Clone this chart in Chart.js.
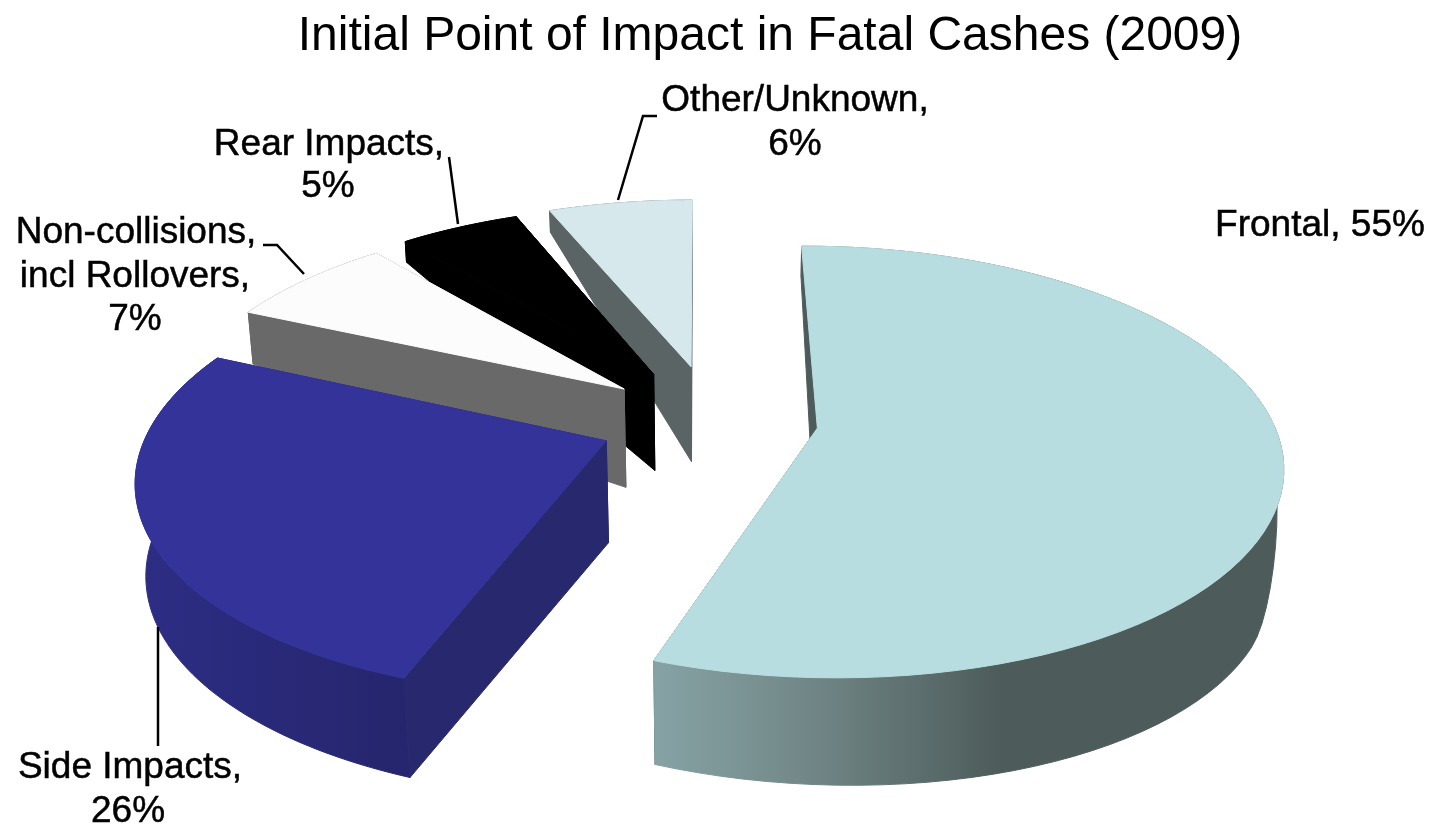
<!DOCTYPE html>
<html><head><meta charset="utf-8">
<style>html,body{margin:0;padding:0;background:#fff}#w{width:1430px;height:827px}</style>
<script src="https://cdn.jsdelivr.net/npm/chart.js@4"></script>
</head><body><div id="w"><canvas id="c"></canvas></div>
<script>
const titleText = 'Initial Point of Impact in Fatal Cashes (2009)';
const categories = ['Frontal', 'Side Impacts', 'Non-collisions, incl Rollovers', 'Rear Impacts', 'Other/Unknown'];
const shares = [55, 26, 7, 5, 6];
const topColors = ['#b8dde0', '#333399', '#fcfcfc', '#000000', '#d6e8ec'];
const wallColors = ['#4d5c5b', '#28286f', '#696969', '#000000', '#5a6464'];
const labelLines = [['Frontal, 55%'], ['Side Impacts,', '26%'], ['Non-collisions,', 'incl Rollovers,', '7%'], ['Rear Impacts,', '5%'], ['Other/Unknown,', '6%']];
const sliceOffsets = [76, 84, 84, 88, 90];

const cam = {cx: 714, cy: 420, a: 455, e: 208, g: 0.156};
const labelAnchors = [[[1320, 236]], [[130, 778], [128, 822]], [[136, 243], [135, 287], [135, 330]], [[329, 155], [328, 197]], [[795, 111], [795, 155]]];
const leaders = [null, [[158, 627], [158, 746]], [[263, 245], [277, 245], [304, 274]], [[449, 157], [458, 224]], [[657, 116], [643, 116], [618, 200]]];

function smooth(a, b, x) { const t = Math.min(1, Math.max(0, (x - a) / (b - a))); return t * t * (3 - 2 * t); }
function proj(u, v) { const w = 1 - cam.g * v; return [cam.cx + cam.a * u / w, cam.cy + cam.e * v / w]; }
function down(u, v) {
  const p = proj(u, v);
  let d = 65 + 40 * Math.tanh(3.5 * (v + 0.55)) + 10 * u;
  d -= 90 * smooth(0.95, 1.2, u) * (1 - smooth(0, 0.5, v));
  return [p[0] + (cam.cx - p[0]) * d * 0.0002, p[1] + d];
}
function fillPoly(ctx, pts, style) {
  ctx.beginPath();
  pts.forEach((p, i) => i ? ctx.lineTo(p[0], p[1]) : ctx.moveTo(p[0], p[1]));
  ctx.closePath();
  ctx.fillStyle = style; ctx.strokeStyle = style; ctx.lineWidth = 1;
  ctx.fill(); ctx.stroke();
}
const pie3d = {
  id: 'pie3d',
  beforeDatasetDraw(chart) {
    const ctx = chart.ctx, arcs = chart.getDatasetMeta(0).data;
    ctx.save();
    for (let i = arcs.length - 1; i >= 0; i--) {
      const a = arcs[i], mid = (a.startAngle + a.endAngle) / 2, o = a.options.offset / a.outerRadius;
      const ox = Math.cos(mid) * o, oy = Math.sin(mid) * o, rim = [], N = 80;
      for (let k = 0; k <= N; k++) {
        const t = a.startAngle + (a.endAngle - a.startAngle) * k / N;
        rim.push([ox + Math.cos(t), oy + Math.sin(t)]);
      }
      const apex = [ox, oy], f = rim[0], l = rim[N];
      const wall = wallColors[i];
      let rimStyle = wall;
      if (i === 0) {
        rimStyle = ctx.createLinearGradient(657, 0, 1000, 0);
        rimStyle.addColorStop(0, '#86a2a4'); rimStyle.addColorStop(0.4, '#748a8a'); rimStyle.addColorStop(1, wall);
      } else if (i === 1) {
        rimStyle = ctx.createLinearGradient(135, 0, 420, 0);
        rimStyle.addColorStop(0, '#2d2d85'); rimStyle.addColorStop(1, '#25256c');
      }
      fillPoly(ctx, [proj(...apex), proj(...l), down(...l), down(...apex)], wall);
      fillPoly(ctx, rim.map(p => proj(...p)).concat(rim.slice().reverse().map(p => down(...p))), rimStyle);
      fillPoly(ctx, [proj(...apex), proj(...f), down(...f), down(...apex)], wall);
      fillPoly(ctx, [proj(...apex)].concat(rim.map(p => proj(...p))), a.options.backgroundColor);
    }
    ctx.restore();
    return false;
  },
  afterDatasetsDraw(chart) {
    const ctx = chart.ctx;
    ctx.save();
    ctx.fillStyle = '#000'; ctx.strokeStyle = '#000'; ctx.lineWidth = 0.5;
    ctx.font = '37px "Liberation Sans"'; ctx.textAlign = 'center'; ctx.textBaseline = 'alphabetic';
    labelLines.forEach((lines, i) => lines.forEach((s, j) => {
      ctx.fillText(s, labelAnchors[i][j][0], labelAnchors[i][j][1]);
      ctx.strokeText(s, labelAnchors[i][j][0], labelAnchors[i][j][1]);
    }));
    ctx.lineWidth = 2.5;
    leaders.forEach(pts => {
      if (!pts) return;
      ctx.beginPath();
      pts.forEach((p, i) => i ? ctx.lineTo(p[0], p[1]) : ctx.moveTo(p[0], p[1]));
      ctx.stroke();
    });
    ctx.restore();
  }
};
new Chart(document.getElementById('c'), {
  type: 'pie',
  data: {labels: categories, datasets: [{data: shares, backgroundColor: topColors, borderWidth: 0, offset: sliceOffsets}]},
  options: {
    responsive: true, maintainAspectRatio: false, animation: false, rotation: -0.25,
    layout: {padding: {left: 110}},
    plugins: {
      legend: {display: false}, tooltip: {enabled: false},
      title: {display: true, text: titleText, color: '#000', font: {family: '"Liberation Sans"', size: 48, weight: 'normal'}, padding: {top: 8, bottom: 8}}
    }
  },
  plugins: [pie3d]
});
</script></body></html>
